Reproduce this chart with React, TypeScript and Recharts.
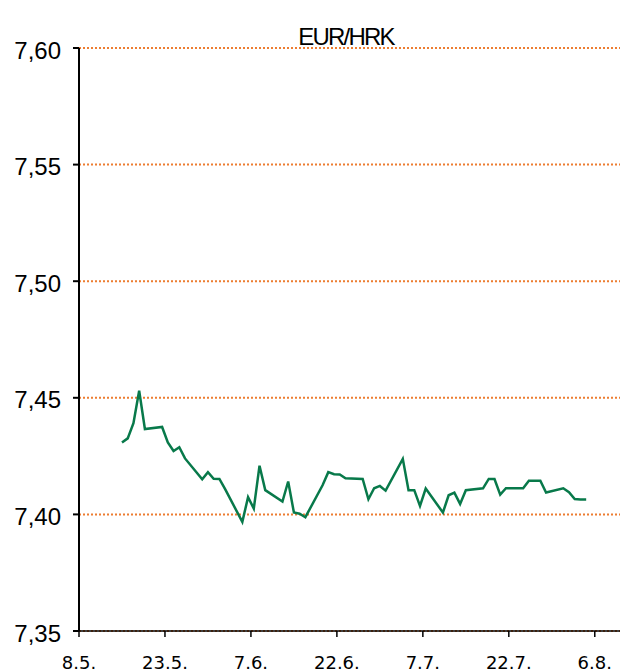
import { LineChart, Line, XAxis, YAxis, CartesianGrid } from "recharts"

// EUR/HRK daily rate, 15.5. - 4.8.
const dates = [
  "15.5.", "16.5.", "17.5.", "18.5.", "19.5.", "22.5.", "23.5.", "24.5.", "25.5.", "26.5.",
  "29.5.", "30.5.", "31.5.", "1.6.", "2.6.", "5.6.", "6.6.", "7.6.", "8.6.", "9.6.",
  "12.6.", "13.6.", "14.6.", "15.6.", "16.6.", "19.6.", "20.6.", "21.6.", "22.6.", "23.6.",
  "26.6.", "27.6.", "28.6.", "29.6.", "30.6.", "3.7.", "4.7.", "5.7.", "6.7.", "7.7.",
  "10.7.", "11.7.", "12.7.", "13.7.", "14.7.", "17.7.", "18.7.", "19.7.", "20.7.", "21.7.",
  "24.7.", "25.7.", "26.7.", "27.7.", "28.7.", "31.7.", "1.8.", "2.8.", "3.8.", "4.8.",
]
const rates = [
  7.4308, 7.4326, 7.4391, 7.453, 7.4366, 7.4375, 7.4309, 7.4272, 7.4288, 7.424,
  7.4151, 7.4181, 7.4153, 7.4152, 7.4108, 7.3968, 7.4074, 7.4025, 7.4209, 7.4104,
  7.4055, 7.4141, 7.4008, 7.4003, 7.3988, 7.4125, 7.4181, 7.4172, 7.4171, 7.4155,
  7.4152, 7.4065, 7.4112, 7.4122, 7.4102, 7.4238, 7.4104, 7.4104, 7.4036, 7.4111,
  7.4008, 7.4082, 7.4093, 7.4045, 7.4104, 7.4112, 7.4152, 7.4152, 7.4085, 7.4112,
  7.4112, 7.4144, 7.4144, 7.4144, 7.4094, 7.4112, 7.4095, 7.4066, 7.4064, 7.4064,
]
const xTickLabels = ["8.5.", "23.5.", "7.6.", "22.6.", "7.7.", "22.7.", "6.8."]
const yTicks = [7.35, 7.4, 7.45, 7.5, 7.55, 7.6]

// days counted from 8.5.
const monthStart: Record<number, number> = { 5: -8, 6: 23, 7: 53, 8: 84 }
function dayOf(label: string) {
  const [d, m] = label.split(".").map(Number)
  return monthStart[m] + d
}

const data = dates.map((d, i) => ({ x: dayOf(d) + 0.5, rate: rates[i] }))
const xTicks = xTickLabels.map(dayOf)
const xLabel = new Map(xTickLabels.map((l) => [dayOf(l), l]))

export default function App() {
  return (
    <div style={{ position: "absolute", left: 0, top: 0, width: 620, height: 672, overflow: "hidden", background: "#fff" }}>
      <LineChart width={620} height={700} data={data} margin={{ top: 48, right: 0, left: 0, bottom: 29 }}>
        <CartesianGrid vertical={false} stroke="#ED7D31" strokeWidth={2} strokeDasharray="2 2" />
        <XAxis
          dataKey="x"
          type="number"
          domain={[0, 94.4]}
          ticks={xTicks}
          tickFormatter={(v) => xLabel.get(v) ?? ""}
          height={40}
          tickSize={6}
          tickMargin={19}
          stroke="#000"
          strokeWidth={1.5}
          tick={{ fill: "#000", fontSize: 18, fontFamily: "DejaVu Sans" }}
          interval={0}
        />
        <YAxis
          type="number"
          domain={[7.35, 7.6]}
          ticks={yTicks}
          width={79}
          tickSize={6}
          tickMargin={12}
          stroke="#000"
          strokeWidth={2}
          tickFormatter={(v) => v.toFixed(2).replace(".", ",")}
          tick={{ fill: "#000", fontSize: 24, fontFamily: "Liberation Sans", dy: 2 }}
          interval={0}
        />
        <Line type="linear" dataKey="rate" stroke="#08794A" strokeWidth={2.5} dot={false} isAnimationActive={false} />
      </LineChart>
      <svg width={620} height={60} style={{ position: "absolute", left: 0, top: 0 }}>
        <text x={346} y={45} textAnchor="middle" fontFamily="Liberation Sans" fontSize={24} letterSpacing={-1.8} fill="#000">
          EUR/HRK
        </text>
      </svg>
    </div>
  )
}
